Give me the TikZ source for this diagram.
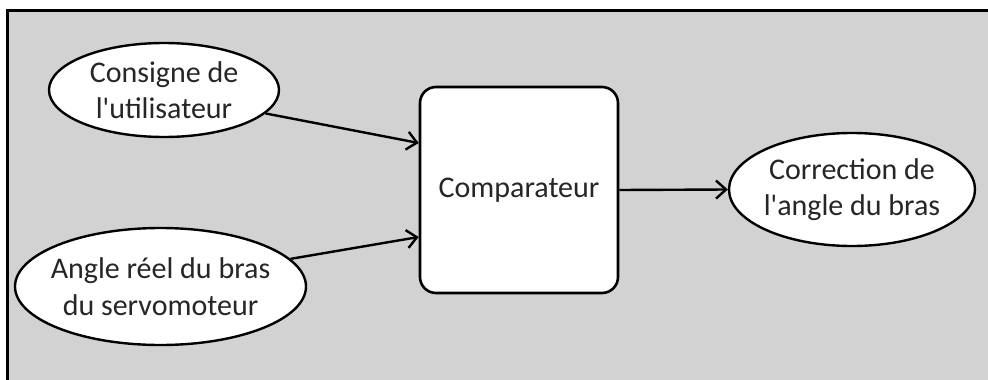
\documentclass[tikz,border=0pt]{standalone}
\usepackage{fontspec}
\setmainfont{Carlito}
\usetikzlibrary{shapes.geometric,arrows.meta}
\begin{document}
\begin{tikzpicture}[x=1pt,y=-1pt,
  lbl/.style={font=\fontsize{30}{36.5}\selectfont, align=center, text=black!85, inner sep=0pt},
  oval/.style={ellipse, draw=black, line width=2.4pt, fill=white, inner sep=0pt},
  boxnode/.style={rounded corners=16pt, draw=black, line width=2.6pt, fill=white, inner sep=0pt},
  conn/.style={line width=2.4pt, -{Straight Barb[length=10pt,width=18pt,line width=2.4pt]}}]
\useasboundingbox (0,0) rectangle (988,380);
\fill[white] (0,0) rectangle (988,380);
\fill[gray!35] (7,10) rectangle (988,380);
\draw[line width=3pt] (7,395) -- (7,10) -- (995,10);
\node[oval, minimum width=230pt, minimum height=94pt] (c) at (164,90) {};
\node[oval, minimum width=291pt, minimum height=117pt] (a) at (160.5,286.5) {};
\node[boxnode, minimum width=198pt, minimum height=206pt] (k) at (519,190) {};
\node[oval, minimum width=246pt, minimum height=113pt] (r) at (852,189.5) {};
\node[lbl] (cl) at (c) {Consigne de\\l\textquotesingle utilisateur};
\node[lbl] (al) at (a) {Angle réel du bras\\du servomoteur};
\node[lbl] (kl) at (k) {Comparateur};
\node[lbl] (rl) at (r) {Correction de\\l\textquotesingle angle du bras};
\coordinate (t1) at (k.west |- 0,143);
\coordinate (t2) at (k.west |- 0,237);
\draw[conn] (c.-13) -- (t1);
\draw[conn] (a.12) -- (t2);
\draw[conn] (k.east) -- (r.west);
\end{tikzpicture}
\end{document}
